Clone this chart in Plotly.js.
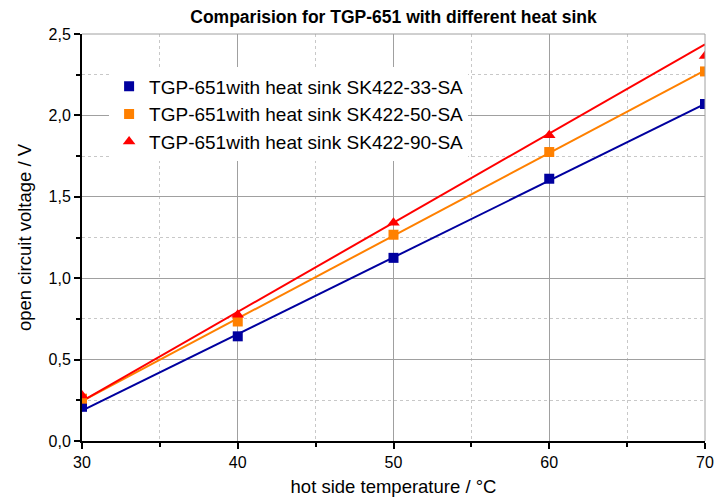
<!DOCTYPE html>
<html>
<head>
<meta charset="utf-8">
<script src="https://cdn.plot.ly/plotly-3.0.1.min.js"></script>
<style>html,body{margin:0;padding:0;background:#fff;} #chart{width:725px;height:500px;}</style>
</head>
<body>
<div id="chart"></div>
<script>
// Data
const temperature = [30, 40, 50, 60, 70];
const seriesNames = [
  "TGP-651with heat sink SK422-33-SA",
  "TGP-651with heat sink SK422-50-SA",
  "TGP-651with heat sink SK422-90-SA"
];
const voltageSK33 = [0.21, 0.643, 1.125, 1.611, 2.07];
const voltageSK50 = [0.26, 0.734, 1.267, 1.775, 2.27];
const voltageSK90 = [0.28, 0.775, 1.34, 1.878, 2.365];
// Linear fit lines (endpoints)
const fitX = [30, 70];
const fitSK33 = [0.186, 2.07];
const fitSK50 = [0.245, 2.277];
const fitSK90 = [0.245, 2.437];

const colors = ["#00009F", "#FF8000", "#FF0000"];
const symbols = ["square", "square", "triangle-up"];
const sizes = [10, 10, 11];
const values = [voltageSK33, voltageSK50, voltageSK90];
const fits = [fitSK33, fitSK50, fitSK90];

const traces = [];
for (let i = 0; i < 3; i++) {
  traces.push({
    x: fitX, y: fits[i], mode: "lines", type: "scatter",
    line: {color: colors[i], width: 2}, showlegend: false, hoverinfo: "skip"
  });
}
for (let i = 0; i < 3; i++) {
  traces.push({
    x: temperature, y: values[i], mode: "markers", type: "scatter",
    name: seriesNames[i],
    marker: {color: colors[i], symbol: symbols[i], size: sizes[i]},
    cliponaxis: true
  });
}

const fontFam = "Liberation Sans, Arial, sans-serif";
const layout = {
  width: 725, height: 500,
  margin: {l: 82, r: 20, t: 34, b: 59},
  paper_bgcolor: "#fff", plot_bgcolor: "#fff",
  separators: ",.",
  font: {family: fontFam, size: 16, color: "#000"},
  title: {text: "<b>Comparision for TGP-651 with different heat sink</b>",
          font: {family: fontFam, size: 17.5, color: "#000"},
          x: 0.5, xref: "paper", y: 0.966, yref: "container", yanchor: "middle"},
  xaxis: {
    range: [30, 70], dtick: 10, tick0: 30,
    showline: true, linecolor: "#000", linewidth: 2, mirror: false,
    ticks: "outside", ticklen: 6, tickwidth: 2, tickcolor: "#000",
    showgrid: true, gridcolor: "#A0A0A0", gridwidth: 1,
    zeroline: false,
    tickfont: {family: fontFam, size: 16},
    minor: {dtick: 5, ticks: "outside", ticklen: 4, tickwidth: 2, tickcolor: "#000",
            showgrid: true, gridcolor: "#C8C8C8", griddash: "dot", gridwidth: 1},
    title: {text: "hot side temperature / °C", font: {family: fontFam, size: 18.5}, standoff: 10}
  },
  yaxis: {
    range: [0, 2.5], dtick: 0.5, tick0: 0, tickformat: ".1f",
    showline: true, linecolor: "#000", linewidth: 2,
    ticks: "outside", ticklen: 6, tickwidth: 2, tickcolor: "#000",
    showgrid: true, gridcolor: "#A0A0A0", gridwidth: 1,
    zeroline: false,
    tickfont: {family: fontFam, size: 16},
    minor: {dtick: 0.25, ticks: "outside", ticklen: 4, tickwidth: 2, tickcolor: "#000",
            showgrid: true, gridcolor: "#C8C8C8", griddash: "dot", gridwidth: 1},
    title: {text: "open circuit voltage / V", font: {family: fontFam, size: 18.5}, standoff: 12}
  },
  legend: {
    x: 0.0435, y: 0.918, xanchor: "left", yanchor: "top",
    bgcolor: "#fff", borderwidth: 0,
    font: {family: fontFam, size: 19, color: "#000"},
    tracegroupgap: 0
  },
  shapes: [
    {type: "line", xref: "paper", yref: "paper", x0: 0, x1: 1, y0: 1, y1: 1,
     line: {color: "#A0A0A0", width: 1}},
    {type: "line", xref: "paper", yref: "paper", x0: 1, x1: 1, y0: 0, y1: 1,
     line: {color: "#A0A0A0", width: 1}}
  ]
};

Plotly.newPlot("chart", traces, layout, {displayModeBar: false, staticPlot: true});
</script>
</body>
</html>
